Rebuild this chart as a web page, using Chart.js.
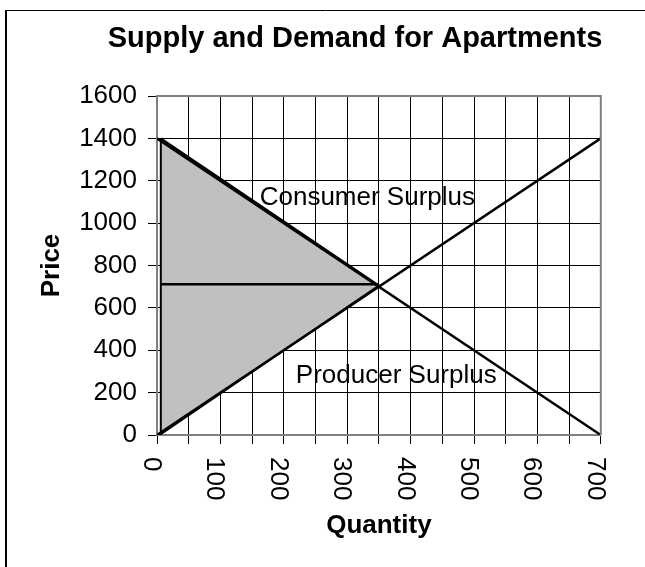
<!DOCTYPE html>
<html>
<head>
<meta charset="utf-8">
<script src="https://cdn.jsdelivr.net/npm/chart.js@4/dist/chart.umd.min.js"></script>
<style>
html,body{margin:0;padding:0;background:#fff;}
#wrap{position:absolute;left:0;top:0;width:645px;height:567px;}
</style>
</head>
<body>
<div id="wrap"><canvas id="c" width="645" height="567"></canvas></div>
<script>
// ---- data ----
const titleText = 'Supply and Demand for Apartments';
const xAxisLabel = 'Quantity';
const yAxisLabel = 'Price';

const demandQ = [0, 700];
const demandP = [1400, 0];
const supplyQ = [0, 700];
const supplyP = [0, 1400];
const priceQ = [6, 350];
const priceP = [711, 711];
const surplusQ = [6, 350, 6, 6];
const surplusP = [1400, 705, 4, 1400];

const annotationText = ['Consumer Surplus', 'Producer Surplus'];
const annotationQ = [162, 219];
const annotationP = [1086, 244];

const xMin = 0, xMax = 700, xStep = 50, xLabelStep = 100;
const yMin = 0, yMax = 1600, yStep = 200;

// ---- helpers ----
const FONT = '"Liberation Sans", Arial, Helvetica, sans-serif';
const pts = (xs, ys) => xs.map((x, i) => ({x: x, y: ys[i]}));

const decorPlugin = {
  id: 'decor',
  afterDraw(chart) {
    const ctx = chart.ctx;
    const a = chart.chartArea;
    const xs = chart.scales.x, ys = chart.scales.y;
    ctx.save();
    // plot border top & right
    ctx.strokeStyle = '#808080';
    ctx.lineWidth = 2;
    ctx.beginPath();
    ctx.moveTo(a.left, a.top);
    ctx.lineTo(a.right, a.top);
    ctx.lineTo(a.right, a.bottom);
    ctx.stroke();
    // outer frame
    ctx.strokeStyle = '#000';
    ctx.lineWidth = 2;
    ctx.beginPath();
    ctx.moveTo(6, 567);
    ctx.lineTo(6, 10);
    ctx.stroke();
    ctx.lineWidth = 1;
    ctx.beginPath();
    ctx.moveTo(6, 10.5);
    ctx.lineTo(645, 10.5);
    ctx.stroke();
    // title
    ctx.fillStyle = '#000';
    ctx.font = 'bold 29px ' + FONT;
    ctx.textAlign = 'center';
    ctx.textBaseline = 'alphabetic';
    ctx.fillText(titleText, 355, 47);
    // annotations
    ctx.font = '26px ' + FONT;
    ctx.textAlign = 'left';
    annotationText.forEach((t, i) => {
      ctx.fillText(t, xs.getPixelForValue(annotationQ[i]), ys.getPixelForValue(annotationP[i]));
    });
    // x tick labels, rotated clockwise
    ctx.font = '26px ' + FONT;
    xs.ticks.forEach(tk => {
      if (tk.value % xLabelStep !== 0) return;
      const px = xs.getPixelForValue(tk.value);
      ctx.save();
      ctx.translate(px - 13, a.bottom + 22);
      ctx.rotate(Math.PI / 2);
      ctx.textAlign = 'left';
      ctx.textBaseline = 'alphabetic';
      ctx.fillText(String(tk.value), 0, 0);
      ctx.restore();
    });
    ctx.restore();
  }
};

new Chart(document.getElementById('c'), {
  type: 'line',
  data: {
    datasets: [
      {label: 'Demand', data: pts(demandQ, demandP), borderColor: '#000', borderWidth: 2.5, fill: false},
      {label: 'Supply', data: pts(supplyQ, supplyP), borderColor: '#000', borderWidth: 2.5, fill: false},
      {label: 'Price', data: pts(priceQ, priceP), borderColor: '#000', borderWidth: 2.5, fill: false},
      {label: 'Surplus', data: pts(surplusQ, surplusP), borderColor: '#000', borderWidth: 2,
       backgroundColor: '#c0c0c0', fill: 'shape'}
    ]
  },
  options: {
    responsive: false,
    animation: false,
    devicePixelRatio: 1,
    layout: {padding: {top: 96, left: 0, right: 37, bottom: 0}},
    elements: {point: {radius: 0, hoverRadius: 0}, line: {tension: 0}},
    plugins: {legend: {display: false}, tooltip: {enabled: false}, title: {display: false}},
    scales: {
      x: {
        type: 'linear', min: xMin, max: xMax,
        ticks: {stepSize: xStep, autoSkip: false, maxRotation: 90, minRotation: 90,
                color: 'rgba(0,0,0,0)', font: {family: FONT, size: 26}, padding: 13,
                callback: v => (v % xLabelStep === 0 ? String(v) : '')},
        grid: {color: '#000', lineWidth: 1, tickLength: 9, drawTicks: true},
        border: {color: '#808080', width: 2},
        title: {display: true, text: xAxisLabel, color: '#000',
                font: {family: FONT, size: 26, weight: 'bold'}, padding: {top: 0, bottom: 26}},
        afterFit: s => { s.height = 132; }
      },
      y: {
        type: 'linear', min: yMin, max: yMax,
        ticks: {stepSize: yStep, color: '#000', font: {family: FONT, size: 26}, padding: 11,
                callback: v => String(v)},
        grid: {color: '#000', lineWidth: 1, tickLength: 9, drawTicks: true},
        border: {color: '#808080', width: 2},
        title: {display: true, text: yAxisLabel, color: '#000',
                font: {family: FONT, size: 26, weight: 'bold'}, padding: {top: 36, bottom: 0}},
        afterFit: s => { s.width = 157; }
      }
    }
  },
  plugins: [decorPlugin]
});
</script>
</body>
</html>
